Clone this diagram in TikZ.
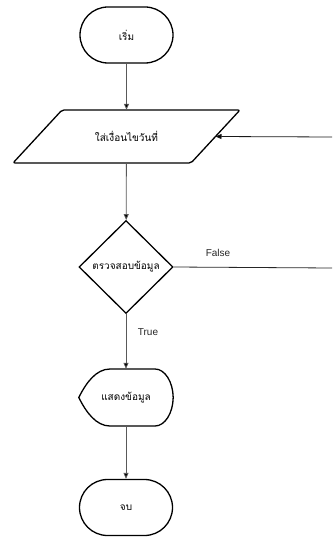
\documentclass[tikz,border=0pt]{standalone}
\usepackage{fontspec}
\setmainfont{Liberation Sans}
\newfontfamily\thaifont[Script=Thai]{Loma}
\usetikzlibrary{shapes.geometric,shapes.misc,arrows.meta}

\tikzset{
  thaitext/.style={font=\thaifont\fontsize{10}{12}\selectfont},
  shapeline/.style={draw=black, line width=1.3pt, thaitext, inner sep=0pt},
  outline/.style={draw=black, line width=1.3pt, line join=round},
  terminal/.style={shapeline, rounded rectangle, minimum width=93pt, minimum height=56pt},
  decision/.style={shapeline, diamond, minimum width=94pt, minimum height=93pt, aspect=1},
  textbox/.style={inner sep=0pt, thaitext},
  flow/.style={draw=black!65, line width=0.8pt, -{Triangle[width=5pt,length=6pt,fill=black]}},
  loopflow/.style={flow, draw=black!90},
  plainflow/.style={draw=black!85, line width=0.8pt},
  edgelabel/.style={font=\fontsize{10}{12}\selectfont, text=black!85, inner sep=0pt}
}

\begin{document}
\begin{tikzpicture}[x=1pt, y=-1pt]
  \useasboundingbox (0,0) rectangle (332,537);

  % start
  \node[terminal] (start) at (126.5,35) {เริ่ม};

  % input: parallelogram around a text node
  \node[textbox, minimum width=178pt, minimum height=53pt] (input) at (126.5,136.5) {ใส่เงื่อนไขวันที่};
  \draw[outline, rounded corners=2pt]
    (62,110) -- (240,110) -- (191,163) -- (13,163) -- cycle;
  \coordinate (inputside) at (215.5,136.5);

  % decision
  \node[decision] (check) at (126,267) {ตรวจสอบข้อมูล};

  % display: pointed left side, rounded right side
  \node[textbox, minimum width=94pt, minimum height=57pt] (show) at (126,397.5) {แสดงข้อมูล};
  \draw[outline]
    (show.west) .. controls (86,383) and (96,369) .. (110,369) -- (155,369)
    .. controls (165,369) and (173,382) .. (show.east)
    .. controls (173,413) and (165,426) .. (155,426)
    -- (110,426) .. controls (96,426) and (86,412) .. (show.west) -- cycle;

  % end
  \node[terminal] (stop) at (126,507.5) {จบ};

  % off-page ends of the loop on the right
  \coordinate (loopin) at (332,137);
  \coordinate (loopout) at (332,268);

  % connectors
  \draw[flow] (start) -- (input);
  \draw[flow] (input) -- (check);
  \draw[flow] (check) -- (show);
  \draw[flow] (show) -- (stop);
  \draw[loopflow] (loopin) -- (inputside);
  \draw[plainflow] (check.east) -- (loopout);

  % branch labels
  \node[edgelabel] (lblfalse) at (218,253) {False};
  \node[edgelabel] (lbltrue) at (148,332) {True};
\end{tikzpicture}
\end{document}
